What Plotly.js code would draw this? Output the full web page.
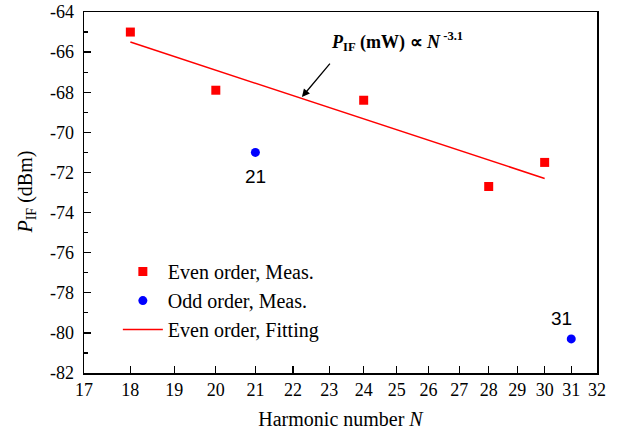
<!DOCTYPE html>
<html>
<head>
<meta charset="utf-8">
<script src="https://cdn.plot.ly/plotly-3.0.1.min.js"></script>
<style>html,body{margin:0;padding:0;background:#fff;}#chart{width:618px;height:431px;}</style>
</head>
<body>
<div id="chart"></div>
<script>
// Data
const evenN = [18, 20, 24, 28, 30];
const evenP = [-65.0, -67.9, -68.4, -72.7, -71.5];
const oddN = [21, 31];
const oddP = [-71.0, -80.3];
const fitN = [18, 30];
const fitP = [-65.5, -72.3];
const xTicks = [17, 18, 19, 20, 21, 22, 23, 24, 25, 26, 27, 28, 29, 30, 31, 32];
const yTicks = [-82, -80, -78, -76, -74, -72, -70, -68, -66, -64];
const oddLabels = ['21', '31'];

const serif = 'Liberation Serif, Times New Roman, serif';

const traces = [
  {x: evenN, y: evenP, mode: 'markers', type: 'scatter', name: 'Even order, Meas.',
   marker: {symbol: 'square', size: 9, color: '#ff0000'}},
  {x: oddN, y: oddP, mode: 'markers', type: 'scatter', name: 'Odd order, Meas.',
   marker: {symbol: 'circle', size: 9, color: '#0000ff'}},
  {x: fitN, y: fitP, mode: 'lines', type: 'scatter', name: 'Even order, Fitting',
   line: {color: '#ff0000', width: 1.5}}
];

const annotations = [
  {x: Math.log10(oddN[0]), y: oddP[0], xref: 'x', yref: 'y', text: oddLabels[0], showarrow: false,
   yshift: -24, font: {family: 'Liberation Sans, Arial, sans-serif', size: 19, color: '#000'}},
  {x: Math.log10(oddN[1]), y: oddP[1], xref: 'x', yref: 'y', text: oddLabels[1], showarrow: false,
   xshift: -10, yshift: 20, font: {family: 'Liberation Sans, Arial, sans-serif', size: 19, color: '#000'}},
  {x: Math.log10(22.24), y: -68.24, xref: 'x', yref: 'y', text: ' ', showarrow: true,
   ax: 31, ay: -37, arrowhead: 2, arrowsize: 1.2, arrowwidth: 1.3, arrowcolor: '#000', standoff: 0, startstandoff: 0},
  {x: Math.log10(25.0), y: -65.45, xref: 'x', yref: 'y', showarrow: false,
   text: '<b><i>P</i><sub>IF</sub> (mW) ∝ <i>N</i><sup> -3.1</sup></b>',
   font: {family: serif, size: 18, color: '#000'}},
  {x: -0.113, y: 0.5, xref: 'paper', yref: 'paper', xanchor: 'center', yanchor: 'middle',
   textangle: -90, showarrow: false, text: '<i>P</i><sub>IF</sub> (dBm)',
   font: {family: serif, size: 20, color: '#000'}}
];

const layout = {
  width: 618, height: 431,
  margin: {l: 84, r: 21, t: 12, b: 58},
  paper_bgcolor: '#ffffff', plot_bgcolor: '#ffffff',
  showlegend: true,
  legend: {x: 0.066, y: 0.335, xanchor: 'left', yanchor: 'top', bgcolor: 'rgba(0,0,0,0)',
           itemwidth: 40, font: {family: serif, size: 20, color: '#000'}, tracegroupgap: 0},
  xaxis: {
    type: 'log', range: [Math.log10(17), Math.log10(32)],
    tickmode: 'array', tickvals: xTicks, ticktext: xTicks.map(String),
    ticks: 'inside', ticklen: 7, tickwidth: 1.3, tickcolor: '#000',
    showline: true, linecolor: '#000', linewidth: 1.5, mirror: true,
    showgrid: false, zeroline: false,
    tickfont: {family: serif, size: 18, color: '#000'},
    title: {text: 'Harmonic number <i>N</i>', font: {family: serif, size: 20, color: '#000'}, standoff: 13}
  },
  yaxis: {
    range: [-82, -64], tickmode: 'array', tickvals: yTicks, ticktext: yTicks.map(v => '-' + Math.abs(v)),
    ticks: 'inside', ticklen: 7, tickwidth: 1.3, tickcolor: '#000', ticklabelstandoff: 5,
    minor: {dtick: 1, tick0: -82, ticks: 'inside', ticklen: 4, tickwidth: 1.3, tickcolor: '#000'},
    showline: true, linecolor: '#000', linewidth: 1.5, mirror: true,
    showgrid: false, zeroline: false,
    tickfont: {family: serif, size: 18, color: '#000'}
  },
  annotations: annotations
};

Plotly.newPlot('chart', traces, layout, {displayModeBar: false, staticPlot: true});
</script>
</body>
</html>
